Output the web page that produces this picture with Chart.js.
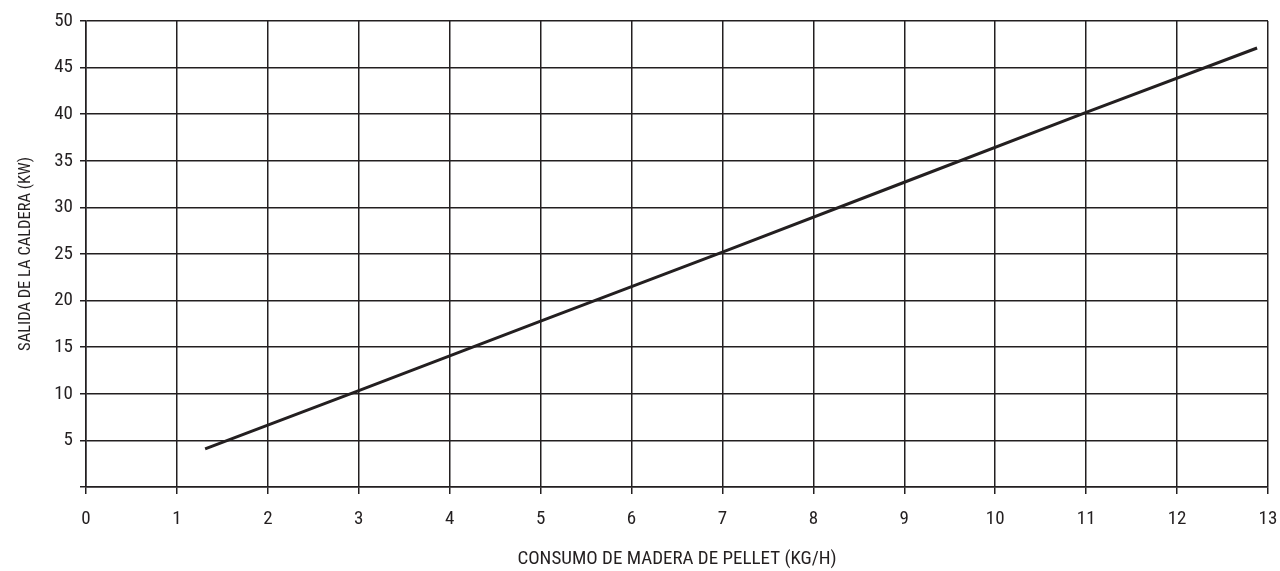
<!DOCTYPE html>
<html>
<head>
<meta charset="utf-8">
<script src="https://cdn.jsdelivr.net/npm/chart.js@4.4.1/dist/chart.umd.min.js"></script>
<style>
html,body{margin:0;padding:0;background:#fff;}
#wrap{width:1280px;height:571px;position:relative;}
</style>
</head>
<body>
<div id="wrap"><canvas id="c"></canvas></div>
<script>
const xValues = [1.31, 3, 5, 7, 9, 11, 12.88];
const yValues = [4.1, 10.35, 17.8, 25.2, 32.7, 40.2, 47.1];
const xTitle = 'CONSUMO DE MADERA DE PELLET (KG/H)';
const yTitle = 'SALIDA DE LA CALDERA (KW)';
const xMin = 0, xMax = 13, yMin = 0, yMax = 50;

const FONT = "'Liberation Sans Narrow', 'Arial Narrow', 'Roboto Condensed', 'Liberation Sans', sans-serif";
const INK = '#231f20';

new Chart(document.getElementById('c'), {
  type: 'scatter',
  data: {
    datasets: [{
      data: xValues.map((x, i) => ({x: x, y: yValues[i]})),
      showLine: true,
      borderColor: INK,
      borderWidth: 3,
      pointRadius: 0,
      fill: false,
      tension: 0
    }]
  },
  options: {
    responsive: true,
    maintainAspectRatio: false,
    animation: false,
    layout: {padding: {top: 21, right: 12, left: 0, bottom: 0}},
    plugins: {legend: {display: false}, tooltip: {enabled: false}},
    scales: {
      x: {
        type: 'linear', min: xMin, max: xMax,
        ticks: {stepSize: 1, color: INK, font: {family: FONT, size: 19}, padding: 14},
        grid: {color: INK, lineWidth: 1.5, tickLength: 7, drawTicks: true},
        border: {color: INK, width: 1.5},
        title: {display: true, text: xTitle, color: INK, font: {family: FONT, size: 19}, padding: {top: 14, bottom: 0}},
        afterFit: s => { s.height = 84; s.paddingRight = 0; s.paddingLeft = 0; }
      },
      y: {
        type: 'linear', min: yMin, max: yMax,
        ticks: {stepSize: 5, color: INK, font: {family: FONT, size: 19}, padding: 7,
                callback: v => v === 0 ? '' : v},
        grid: {color: INK, lineWidth: 1.5, tickLength: 6, drawTicks: true},
        border: {color: INK, width: 1.5},
        title: {display: true, text: yTitle, color: INK, font: {family: FONT, size: 16.5}, padding: {top: 16, bottom: 0}},
        afterFit: s => { s.width = 86; s.paddingTop = 0; s.paddingBottom = 0; }
      }
    }
  }
});
</script>
</body>
</html>
